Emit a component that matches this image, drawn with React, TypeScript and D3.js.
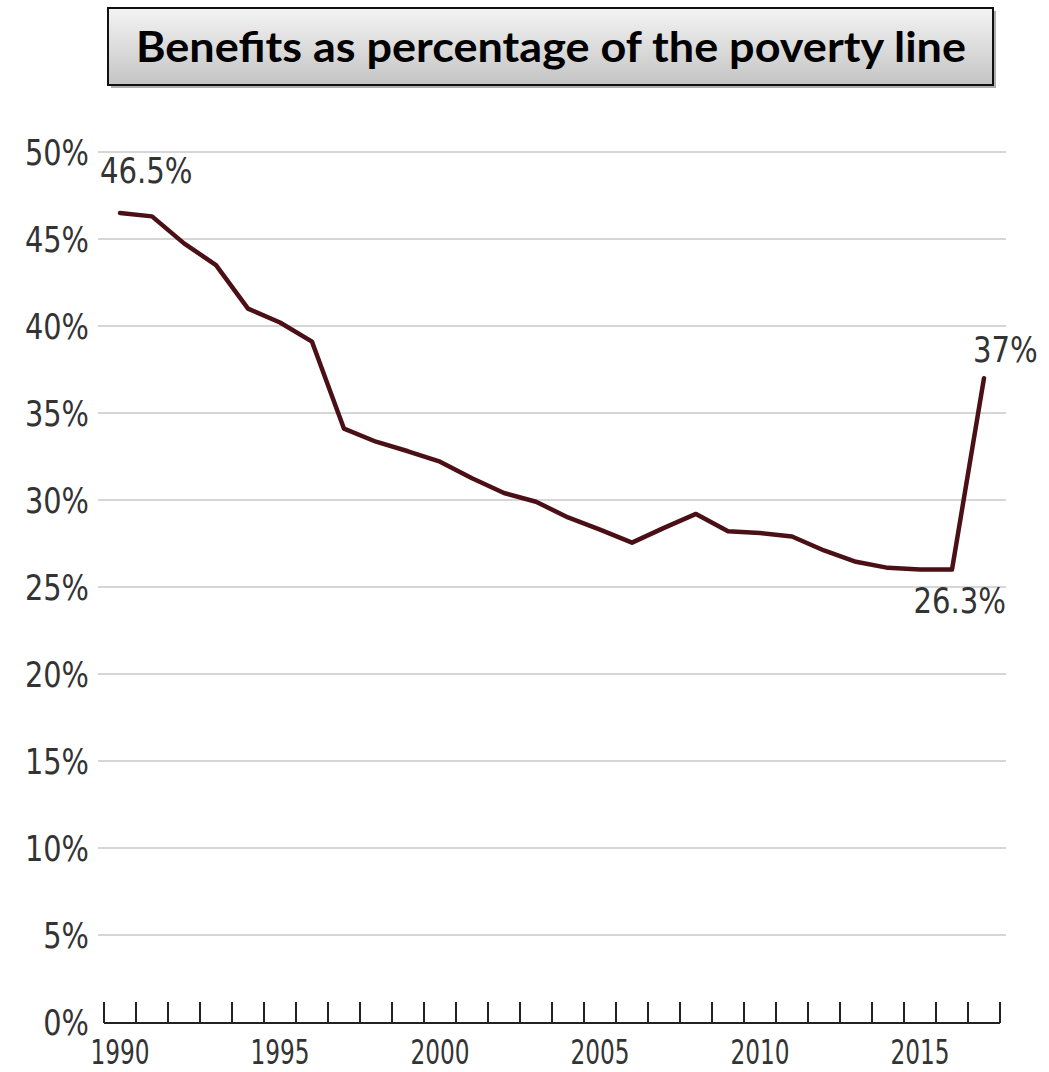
import React from "react";
import * as d3 from "d3";

const years = [1990,1991,1992,1993,1994,1995,1996,1997,1998,1999,2000,2001,2002,2003,2004,2005,2006,2007,2008,2009,2010,2011,2012,2013,2014,2015,2016,2017];
const values = [46.5,46.3,44.75,43.5,41.0,40.2,39.1,34.1,33.35,32.8,32.2,31.25,30.4,29.9,29.0,28.3,27.55,28.4,29.2,28.2,28.1,27.9,27.1,26.45,26.1,26.0,26.0,37.0];
const yTicks = [0,5,10,15,20,25,30,35,40,45,50];
const xLabelYears = [1990,1995,2000,2005,2010,2015];
const annotations = [
  { year: 1990, value: 46.5, text: "46.5%" },
  { year: 2016, value: 26.0, text: "26.3%" },
  { year: 2017, value: 37.0, text: "37%" },
];
const title = "Benefits as percentage of the poverty line";

const W = 1049;
const H = 1072;

export default function App() {
  const x = d3.scaleLinear().domain([1990, 2017]).range([120, 984]);
  const y = d3.scaleLinear().domain([0, 50]).range([1022, 152]);
  const line = d3.line<number>().x((_, i) => x(years[i])).y((v) => y(v)).curve(d3.curveLinear);
  const tickYears = d3.range(1989.5, 2018, 1);
  const labelFont = "'DejaVu Sans Condensed', 'DejaVu Sans', sans-serif";
  const a0 = annotations[0], a1 = annotations[1], a2 = annotations[2];
  return (
    <svg width={W} height={H} style={{ position: "absolute", left: 0, top: 0, background: "#fff" }}>
      <defs>
        <linearGradient id="tg" x1="0" y1="0" x2="0" y2="1">
          <stop offset="0" stopColor="#f4f4f4" />
          <stop offset="1" stopColor="#c4c4c4" />
        </linearGradient>
      </defs>
      <rect x={0} y={0} width={W} height={H} fill="#fff" />
      {/* title box */}
      <rect x={111} y={11} width={885} height={77} fill="#7a7a7a" opacity={0.6} />
      <rect x={108} y={8} width={885} height={77} fill="url(#tg)" stroke="#111" strokeWidth={2} />
      <text x={551} y={62} textAnchor="middle" fontFamily="Lato, 'Open Sans', sans-serif" fontWeight="bold" fontSize={42} textLength={830} lengthAdjust="spacingAndGlyphs" fill="#000">{title}</text>

      {/* gridlines */}
      {yTicks.filter((t) => t > 0).map((t) => (
        <line key={t} x1={98} x2={1006} y1={y(t)} y2={y(t)} stroke="#d6d6d6" strokeWidth={2} />
      ))}
      {/* y labels */}
      {yTicks.map((t) => (
        <text key={t} transform={`translate(89,${y(t) + 13}) scale(0.89,1)`} textAnchor="end" fontFamily={labelFont} fontSize={36} fill="#333">{`${t}%`}</text>
      ))}
      {/* x axis */}
      <line x1={x(1989.5)} x2={x(2017.5)} y1={1023} y2={1023} stroke="#222" strokeWidth={2} />
      {tickYears.map((t) => (
        <line key={t} x1={x(t)} x2={x(t)} y1={1002} y2={1023} stroke="#222" strokeWidth={2} />
      ))}
      {xLabelYears.map((yr) => (
        <text key={yr} transform={`translate(${x(yr)},${1064}) scale(0.76,1)`} textAnchor="middle" fontFamily={labelFont} fontSize={34} fill="#333">{yr}</text>
      ))}

      {/* data line */}
      <path d={line(values) || ""} fill="none" stroke="#4a1016" strokeWidth={4.5} strokeLinejoin="round" strokeLinecap="round" />

      {/* annotations */}
      <text transform={`translate(${x(a0.year) - 20},${y(a0.value) - 30}) scale(0.9,1)`} fontFamily={labelFont} fontSize={36} fill="#333">{a0.text}</text>
      <text transform={`translate(${x(a1.year) + 54},${y(a1.value) + 43}) scale(0.9,1)`} textAnchor="end" fontFamily={labelFont} fontSize={36} fill="#333">{a1.text}</text>
      <text transform={`translate(${x(a2.year) - 11},${y(a2.value) - 16}) scale(0.9,1)`} fontFamily={labelFont} fontSize={36} fill="#333">{a2.text}</text>
    </svg>
  );
}
